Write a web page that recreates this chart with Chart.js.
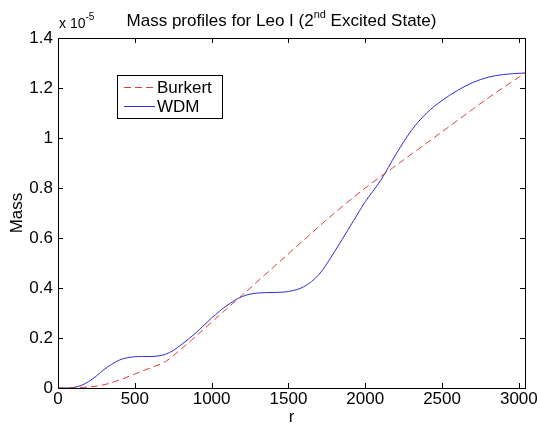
<!DOCTYPE html>
<html>
<head>
<meta charset="utf-8">
<script src="https://cdn.jsdelivr.net/npm/chart.js@4.4.0/dist/chart.umd.min.js"></script>
<style>
  html, body { margin: 0; padding: 0; background: #fff; }
  #wrap { width: 540px; height: 428px; }
</style>
</head>
<body>
<div id="wrap"><canvas id="myChart" width="540" height="428"></canvas></div>
<script>
// radius values (r) and mass in units of 1e-5
const burkertR = [0, 100, 200, 300, 400, 500, 600, 700, 800, 900, 1000, 1100, 1200, 1400, 1600, 1800, 2000, 2200, 2400, 2600, 2800, 3040];
const burkertMass = [0, 0.001, 0.004, 0.013, 0.032, 0.056, 0.08, 0.106, 0.155, 0.208, 0.263, 0.318, 0.372, 0.482, 0.592, 0.7, 0.8, 0.89, 0.98, 1.07, 1.16, 1.26];

const wdmR = [0, 50, 100, 150, 200, 250, 300, 350, 400, 450, 500, 550, 600, 650, 700, 750, 800, 900, 1000, 1100, 1200, 1300, 1400, 1500, 1600, 1700, 1800, 1900, 2000, 2100, 2200, 2300, 2400, 2500, 2600, 2700, 2800, 2900, 3040];
const wdmMass = [0, 0, 0.002, 0.01, 0.026, 0.048, 0.074, 0.095, 0.112, 0.121, 0.125, 0.126, 0.126, 0.128, 0.135, 0.15, 0.172, 0.222, 0.28, 0.33, 0.366, 0.38, 0.382, 0.386, 0.405, 0.455, 0.545, 0.645, 0.745, 0.83, 0.935, 1.03, 1.1, 1.15, 1.19, 1.222, 1.243, 1.254, 1.26];

const xTicks = [0, 500, 1000, 1500, 2000, 2500, 3000];
const yTicks = [0, 0.2, 0.4, 0.6, 0.8, 1, 1.2, 1.4];

const FONT = "'Liberation Sans', Arial, Helvetica, sans-serif";

function toPoints(xs, ys) {
  return xs.map((x, i) => ({ x: x, y: ys[i] }));
}

// box, inward ticks, title with superscript, exponent note and legend (matlab look)
const matlabFrame = {
  id: "matlabFrame",
  afterDraw(chart) {
    const c = chart.ctx;
    const a = chart.chartArea;
    const xs = chart.scales.x;
    const ys = chart.scales.y;
    c.save();
    c.strokeStyle = "#000";
    c.lineWidth = 1;
    c.strokeRect(Math.round(a.left) + 0.5, Math.round(a.top) + 0.5, Math.round(a.right - a.left), Math.round(a.bottom - a.top));
    c.beginPath();
    xTicks.forEach(v => {
      const px = Math.round(xs.getPixelForValue(v)) + 0.5;
      c.moveTo(px, a.bottom); c.lineTo(px, a.bottom - 5);
      c.moveTo(px, a.top); c.lineTo(px, a.top + 5);
    });
    yTicks.forEach(v => {
      const py = Math.round(ys.getPixelForValue(v)) + 0.5;
      c.moveTo(a.left, py); c.lineTo(a.left + 5, py);
      c.moveTo(a.right, py); c.lineTo(a.right - 5, py);
    });
    c.stroke();

    // title
    c.fillStyle = "#000";
    c.textBaseline = "alphabetic";
    c.textAlign = "left";
    const t1 = "Mass profiles for Leo I (2";
    const sup = "nd";
    const t2 = " Excited State)";
    c.font = "17px " + FONT;
    const w1 = c.measureText(t1).width;
    const w3 = c.measureText(t2).width;
    c.font = "11px " + FONT;
    const w2 = c.measureText(sup).width;
    const cx = (a.left + a.right) / 2 - 10;
    let x0 = cx - (w1 + w2 + w3) / 2;
    const base = 26;
    c.font = "17px " + FONT;
    c.fillText(t1, x0, base);
    c.font = "11px " + FONT;
    c.fillText(sup, x0 + w1, base - 8);
    c.font = "17px " + FONT;
    c.fillText(t2, x0 + w1 + w2, base);

    // exponent note
    c.font = "14px " + FONT;
    c.fillText("x 10", a.left + 1, 28);
    const we = c.measureText("x 10").width;
    c.font = "10px " + FONT;
    c.fillText("-5", a.left + 1 + we, 20);

    // legend
    const lx = 117, ly = 75, lw = 105, lh = 43;
    c.fillStyle = "#fff";
    c.fillRect(lx, ly, lw, lh);
    c.strokeStyle = "#000";
    c.strokeRect(lx + 0.5, ly + 0.5, lw, lh);
    c.font = "17px " + FONT;
    c.textBaseline = "middle";
    chart.data.datasets.forEach((ds, i) => {
      const yy = ly + 12 + i * 19;
      c.strokeStyle = ds.borderColor;
      c.lineWidth = 1;
      c.setLineDash(ds.borderDash || []);
      c.beginPath();
      c.moveTo(lx + 7, yy + 0.5);
      c.lineTo(lx + 38, yy + 0.5);
      c.stroke();
      c.setLineDash([]);
      c.fillStyle = "#000";
      c.fillText(ds.label, lx + 40, yy + 1);
    });
    c.restore();
  }
};

const ctx = document.getElementById("myChart");

new Chart(ctx, {
  type: "line",
  data: {
    datasets: [
      {
        label: "Burkert",
        data: toPoints(burkertR, burkertMass),
        borderColor: "rgb(225, 60, 60)",
        borderWidth: 1,
        borderDash: [7, 4],
        pointRadius: 0,
        cubicInterpolationMode: "monotone",
        fill: false,
      },
      {
        label: "WDM",
        data: toPoints(wdmR, wdmMass),
        borderColor: "rgb(45, 45, 215)",
        borderWidth: 1,
        pointRadius: 0,
        cubicInterpolationMode: "monotone",
        fill: false,
      },
    ],
  },
  options: {
    responsive: false,
    animation: false,
    layout: { padding: { left: 0, right: 15, top: 38, bottom: 0 } },
    plugins: {
      legend: { display: false },
      title: { display: false },
      tooltip: { enabled: false },
    },
    scales: {
      x: {
        type: "linear",
        min: 0,
        max: 3040,
        afterFit: s => { s.height = 40; },
        afterBuildTicks: s => { s.ticks = xTicks.map(v => ({ value: v })); },
        grid: { display: false, drawTicks: false },
        border: { display: false },
        ticks: {
          padding: 1,
          color: "#000",
          font: { family: FONT, size: 17 },
          maxRotation: 0,
          callback: v => String(v),
        },
        title: {
          display: true,
          text: "r",
          color: "#000",
          font: { family: FONT, size: 17 },
          padding: { top: 0, bottom: 0 },
        },
      },
      y: {
        type: "linear",
        min: 0,
        max: 1.4,
        afterFit: s => { s.width = 58; },
        afterBuildTicks: s => { s.ticks = yTicks.map(v => ({ value: v })); },
        grid: { display: false, drawTicks: false },
        border: { display: false },
        ticks: {
          padding: 5,
          color: "#000",
          font: { family: FONT, size: 17 },
          callback: v => String(Math.round(v * 10) / 10),
        },
        title: {
          display: true,
          text: "Mass",
          color: "#000",
          font: { family: FONT, size: 17 },
          padding: { top: 7, bottom: 0 },
        },
      },
    },
  },
  plugins: [matlabFrame],
});
</script>
</body>
</html>
